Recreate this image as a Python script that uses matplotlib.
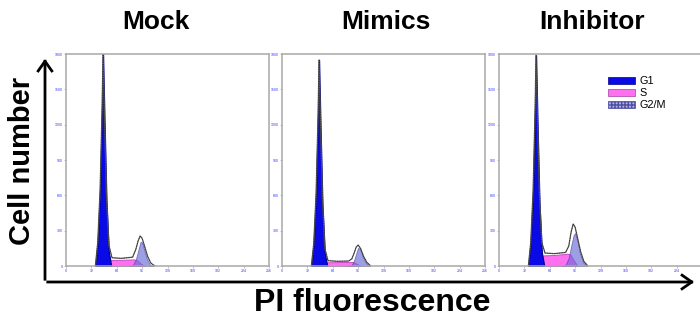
"""Cell-cycle histograms (PI staining) for Mock, Mimics and Inhibitor."""

import matplotlib
matplotlib.use("Agg")
import matplotlib.pyplot as plt
from matplotlib.patches import FancyArrowPatch, Patch

plt.rcParams['font.family'] = ['Liberation Sans', 'DejaVu Sans']

# =============================================================================
# Data (PI channel 0-256, counts)
# =============================================================================

titles = ["Mock", "Mimics", "Inhibitor"]

g1_x = [37, 40, 43, 45.5, 46.7, 48.5, 51, 54, 57]
mock_g1 = [0, 200, 650, 1350, 1800, 1250, 550, 120, 0]
mimics_g1 = [0, 190, 620, 1300, 1750, 1200, 520, 110, 0]
inhib_g1 = [0, 200, 640, 1340, 1790, 1230, 540, 115, 0]

s_x = [47, 51, 56, 64, 72, 80, 86, 90, 94, 99]
mock_s = [0, 40, 52, 52, 53, 55, 56, 48, 22, 0]
mimics_s = [0, 25, 32, 32, 33, 34, 35, 33, 20, 0]
inhib_s = [0, 75, 90, 92, 95, 100, 105, 98, 50, 0]

g2_x = [80, 84, 88, 91, 94, 96, 99, 102, 106, 111]
mock_g2 = [0, 5, 55, 130, 205, 200, 130, 60, 10, 0]
mimics_g2 = [0, 0, 8, 50, 115, 155, 140, 75, 25, 0]
inhib_g2 = [0, 10, 70, 170, 260, 280, 210, 110, 30, 0]

env_x = [37, 40, 43, 45.5, 46.7, 48.5, 51, 54, 58, 70, 84, 88, 91, 93.5, 96, 99, 103, 107, 112]
mock_env = [0, 200, 650, 1350, 1800, 1300, 620, 180, 70, 65, 75, 140, 215, 255, 235, 170, 80, 25, 0]
mimics_env = [0, 190, 620, 1300, 1750, 1250, 580, 150, 45, 40, 42, 60, 110, 160, 178, 150, 80, 30, 0]
inhib_env = [0, 200, 640, 1340, 1790, 1280, 610, 200, 110, 105, 115, 170, 290, 357, 330, 240, 120, 40, 0]

x_ticks = [0, 32, 64, 96, 128, 160, 192, 224, 256]
y_ticks = [0, 300, 600, 900, 1200, 1500, 1800]

g1_values = [mock_g1, mimics_g1, inhib_g1]
s_values = [mock_s, mimics_s, inhib_s]
g2_values = [mock_g2, mimics_g2, inhib_g2]
env_values = [mock_env, mimics_env, inhib_env]

# =============================================================================
# Colours / layout
# =============================================================================

G1_COLOR = '#0a0ae6'
S_COLOR = '#ff70f0'
G2_COLOR = '#6a6ad8'
FRAME = '#a8a8a8'
TICK_TXT = '#3a3aff'

W, H = 700, 324
panel_left = [66, 282, 499]
panel_w, panel_top, panel_bottom = 203, 54, 266

fig = plt.figure(figsize=(W / 100, H / 100), dpi=100)
fig.patch.set_facecolor('white')

for i, left in enumerate(panel_left):
    ax = fig.add_axes([left / W, (H - panel_bottom) / H,
                       panel_w / W, (panel_bottom - panel_top) / H])
    ax.fill_between(s_x, s_values[i], color=S_COLOR, lw=0.6, edgecolor='#c040c0')
    ax.fill_between(g2_x, g2_values[i], color=G2_COLOR, alpha=0.65, lw=0.6,
                    edgecolor='#4040a0')
    ax.fill_between(g1_x, g1_values[i], color=G1_COLOR, lw=0.9, edgecolor='#000090')
    ax.plot(env_x, env_values[i], color='#606060', lw=0.9)
    ax.plot(env_x, env_values[i], color='#111111', lw=0.5, ls=(0, (1, 1.5)))

    ax.set_xlim(0, 256)
    ax.set_ylim(0, 1800)
    ax.set_xticks(x_ticks)
    ax.set_yticks(y_ticks)
    if i == 2:
        # last panel runs off the right edge of the figure
        ax.set_xticklabels([str(t) for t in x_ticks[:-1]] + [''])
    ax.tick_params(labelsize=2.6, labelcolor=TICK_TXT, color=FRAME,
                   length=1.5, width=0.5, pad=1)
    for sp in ax.spines.values():
        sp.set_color(FRAME)
        sp.set_linewidth(1.1)

    fig.text([156, 386, 592][i] / W, (H - 22) / H, titles[i],
             ha='center', va='center', fontsize=19, fontweight='bold')

    if i == 2:
        handles = [Patch(facecolor=G1_COLOR, edgecolor='#000080', lw=0.5),
                   Patch(facecolor=S_COLOR, edgecolor='#a040a0', lw=0.5),
                   Patch(facecolor='#b0b0ee', edgecolor='#5050a0', lw=0.5,
                         hatch='+++++')]
        ax.legend(handles, ['G1', 'S', 'G2/M'], loc='upper left',
                  bbox_to_anchor=(0.51, 0.92), frameon=False, fontsize=7.8,
                  handlelength=2.5, handleheight=0.7, labelspacing=0.18,
                  handletextpad=0.45, borderpad=0)

# Axis arrows
corner = (45 / W, (H - 282) / H)
arrow_kw = dict(transform=fig.transFigure, arrowstyle='->,head_length=0.5,head_width=0.35',
                mutation_scale=14, lw=2, color='black', capstyle='projecting')
fig.add_artist(FancyArrowPatch(corner, (45 / W, (H - 56) / H), **arrow_kw))
fig.add_artist(FancyArrowPatch(corner, (697 / W, (H - 282) / H), **arrow_kw))

fig.text(22 / W, (H - 161) / H, 'Cell number', rotation=90, ha='center',
         va='center', fontsize=21, fontweight='bold')
fig.text(372 / W, (H - 303) / H, 'PI fluorescence', ha='center', va='center',
         fontsize=23, fontweight='bold')

fig.savefig('out.png', dpi=100)
